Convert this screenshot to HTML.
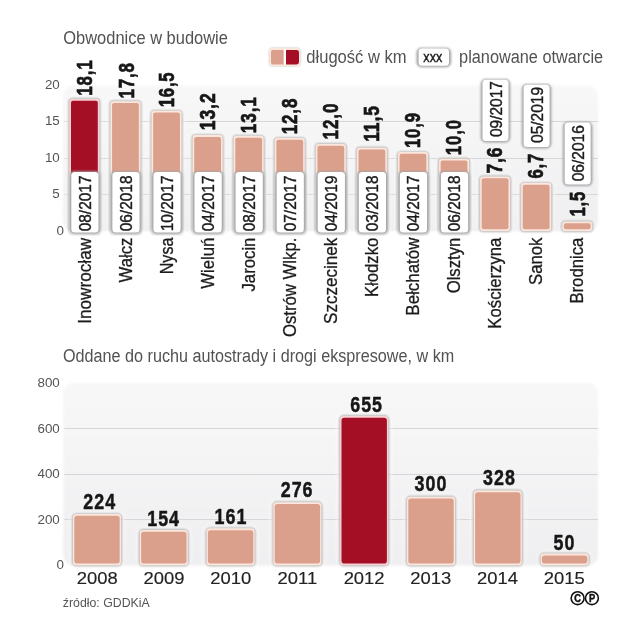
<!DOCTYPE html>
<html lang="pl"><head><meta charset="utf-8"><title>Obwodnice w budowie</title>
<style>
html,body{margin:0;padding:0;background:#fff;}
body{width:640px;height:640px;overflow:hidden;}
svg{display:block;font-family:"Liberation Sans",sans-serif;}
.t{fill:#525252;font-size:19px;}
.ax{fill:#555;font-size:12.4px;}
.val{fill:#161616;font-weight:bold;font-size:22.8px;stroke:#161616;stroke-width:0.7px;letter-spacing:1.2px;}
.bval{fill:#161616;font-weight:bold;font-size:22.6px;stroke:#161616;stroke-width:0.5px;letter-spacing:1.3px;}
.city{fill:#1c1c1c;font-size:18.3px;stroke:#1c1c1c;stroke-width:0.3px;}
.date{fill:#1c1c1c;font-size:16.7px;stroke:#1c1c1c;stroke-width:0.4px;}
.yr{fill:#222;font-size:16.6px;stroke:#222;stroke-width:0.15px;}
.src{fill:#555;font-size:13.4px;}
</style></head><body>
<svg width="640" height="640" viewBox="0 0 640 640">
<defs>
<linearGradient id="bg" x1="0" y1="0" x2="0" y2="1"><stop offset="0" stop-color="#f8f8f8"/><stop offset="1" stop-color="#efeff1"/></linearGradient>
<filter id="sh" x="-30%" y="-30%" width="160%" height="160%"><feGaussianBlur stdDeviation="1"/></filter>
<filter id="sh2" x="-30%" y="-30%" width="160%" height="160%"><feGaussianBlur stdDeviation="0.75"/></filter>
<filter id="sh3" x="-30%" y="-30%" width="160%" height="160%"><feGaussianBlur stdDeviation="1.0"/></filter>
<filter id="glow" x="-30%" y="-30%" width="160%" height="160%"><feGaussianBlur stdDeviation="1.6"/></filter>
<filter id="soft" x="-5%" y="-5%" width="110%" height="110%"><feGaussianBlur stdDeviation="0.8"/></filter>
</defs>
<rect width="640" height="640" fill="#fff"/>

<text class="t" transform="translate(63.30,43.70) scale(0.866,1)" text-anchor="start">Obwodnice w budowie</text>
<rect x="269.4" y="47.9" width="30.8" height="18.1" rx="3.5" fill="#777" opacity="0.5" filter="url(#sh)"/>
<rect x="269.4" y="47.9" width="30.8" height="18.1" rx="3.5" fill="#fde6dc"/>
<path d="M273,50 H283.8 V64.4 H273 Q271,64.4 271,62.4 V52 Q271,50 273,50 Z" fill="#dba08b"/>
<rect x="283.8" y="49" width="2.2" height="16" fill="#fff"/>
<path d="M286,50 H296.6 Q299,50 299,52.4 V62 Q299,64.4 296.6,64.4 H286 Z" fill="#a50f26"/>
<text class="t" transform="translate(306.30,63.30) scale(0.872,1)" text-anchor="start">długość w km</text>
<rect x="416.50" y="47.70" width="34.60" height="19.60" rx="5.0" fill="#a4a4a4" filter="url(#sh3)"/>
<rect x="418.60" y="48.40" width="30.40" height="17.40" rx="3.5" fill="#fff"/>
<text class="date" transform="translate(432.80,61.60) scale(0.84,1)" text-anchor="middle" style="font-size:15px">xxx</text>
<text class="t" transform="translate(459.10,63.30) scale(0.858,1)" text-anchor="start">planowane otwarcie</text>
<rect x="63.3" y="85.2" width="534.7" height="146.0" rx="11" fill="url(#bg)" filter="url(#soft)"/>
<text class="ax" transform="translate(59.80,88.95) scale(1.08,1)" text-anchor="end">20</text>
<line x1="64.3" x2="598" y1="121.5" y2="121.5" stroke="#d6d6d6" stroke-width="1"/>
<text class="ax" transform="translate(59.80,125.25) scale(1.08,1)" text-anchor="end">15</text>
<line x1="64.3" x2="598" y1="158.5" y2="158.5" stroke="#d6d6d6" stroke-width="1"/>
<text class="ax" transform="translate(59.80,161.55) scale(1.08,1)" text-anchor="end">10</text>
<line x1="64.3" x2="598" y1="194.5" y2="194.5" stroke="#d6d6d6" stroke-width="1"/>
<text class="ax" transform="translate(59.80,197.85) scale(1.08,1)" text-anchor="end">5</text>
<text class="ax" transform="translate(64.00,235.15) scale(1.08,1)" text-anchor="end">0</text>
<rect x="65.90" y="95.98" width="37.00" height="137.92" rx="6" fill="#fff" opacity="0.55" filter="url(#glow)"/>
<rect x="68.30" y="98.08" width="32.20" height="134.72" rx="4" fill="#8a8a8a" opacity="0.6" filter="url(#sh3)"/>
<rect x="69.40" y="98.98" width="30.00" height="132.92" rx="3" fill="#f9d0d2"/>
<rect x="71.00" y="100.78" width="26.80" height="129.32" rx="2.00" fill="#a50f26"/>
<rect x="68.50" y="173.50" width="32.80" height="61.90" rx="3" fill="#f0f0f2"/>
<rect x="69.20" y="171.30" width="31.40" height="62.60" rx="5.0" fill="#a4a4a4" filter="url(#sh3)"/>
<rect x="71.30" y="172.00" width="27.20" height="60.40" rx="3.5" fill="#fff"/>
<text class="date" transform="translate(90.80,231.30) rotate(-90) scale(0.925,1)" text-anchor="start">08/2017</text>
<text class="val" transform="translate(91.70,95.84) rotate(-90) scale(0.7399,1)" text-anchor="start">18,1</text>
<text class="city" transform="translate(90.50,237.90) rotate(-90) scale(0.938,1)" text-anchor="end">Inowrocław</text>
<rect x="106.97" y="98.19" width="37.00" height="135.71" rx="6" fill="#fff" opacity="0.55" filter="url(#glow)"/>
<rect x="109.37" y="100.29" width="32.20" height="132.51" rx="4" fill="#8a8a8a" opacity="0.6" filter="url(#sh3)"/>
<rect x="110.47" y="101.19" width="30.00" height="130.71" rx="3" fill="#fde6dc"/>
<rect x="112.07" y="102.99" width="26.80" height="127.11" rx="2.00" fill="#dba08b"/>
<rect x="109.57" y="173.50" width="32.80" height="61.90" rx="3" fill="#f0f0f2"/>
<rect x="110.27" y="171.30" width="31.40" height="62.60" rx="5.0" fill="#a4a4a4" filter="url(#sh3)"/>
<rect x="112.37" y="172.00" width="27.20" height="60.40" rx="3.5" fill="#fff"/>
<text class="date" transform="translate(131.87,231.30) rotate(-90) scale(0.925,1)" text-anchor="start">06/2018</text>
<text class="val" transform="translate(133.57,98.61) rotate(-90) scale(0.7437,1)" text-anchor="start">17,8</text>
<text class="city" transform="translate(131.57,237.60) rotate(-90) scale(0.915,1)" text-anchor="end">Wałcz</text>
<rect x="148.04" y="107.78" width="37.00" height="126.12" rx="6" fill="#fff" opacity="0.55" filter="url(#glow)"/>
<rect x="150.44" y="109.88" width="32.20" height="122.92" rx="4" fill="#8a8a8a" opacity="0.6" filter="url(#sh3)"/>
<rect x="151.54" y="110.78" width="30.00" height="121.12" rx="3" fill="#fde6dc"/>
<rect x="153.14" y="112.58" width="26.80" height="117.52" rx="2.00" fill="#dba08b"/>
<rect x="150.64" y="173.50" width="32.80" height="61.90" rx="3" fill="#f0f0f2"/>
<rect x="151.34" y="171.30" width="31.40" height="62.60" rx="5.0" fill="#a4a4a4" filter="url(#sh3)"/>
<rect x="153.44" y="172.00" width="27.20" height="60.40" rx="3.5" fill="#fff"/>
<text class="date" transform="translate(172.94,231.30) rotate(-90) scale(0.925,1)" text-anchor="start">10/2017</text>
<text class="val" transform="translate(173.84,107.35) rotate(-90) scale(0.7292,1)" text-anchor="start">16,5</text>
<text class="city" transform="translate(172.64,237.60) rotate(-90) scale(0.88,1)" text-anchor="end">Nysa</text>
<rect x="189.11" y="132.11" width="37.00" height="101.79" rx="6" fill="#fff" opacity="0.55" filter="url(#glow)"/>
<rect x="191.51" y="134.21" width="32.20" height="98.59" rx="4" fill="#8a8a8a" opacity="0.6" filter="url(#sh3)"/>
<rect x="192.61" y="135.11" width="30.00" height="96.79" rx="3" fill="#fde6dc"/>
<rect x="194.21" y="136.91" width="26.80" height="93.19" rx="2.00" fill="#dba08b"/>
<rect x="191.71" y="173.50" width="32.80" height="61.90" rx="3" fill="#f0f0f2"/>
<rect x="192.41" y="171.30" width="31.40" height="62.60" rx="5.0" fill="#a4a4a4" filter="url(#sh3)"/>
<rect x="194.51" y="172.00" width="27.20" height="60.40" rx="3.5" fill="#fff"/>
<text class="date" transform="translate(214.01,231.30) rotate(-90) scale(0.925,1)" text-anchor="start">04/2017</text>
<text class="val" transform="translate(214.91,130.23) rotate(-90) scale(0.7687,1)" text-anchor="start">13,2</text>
<text class="city" transform="translate(213.71,237.60) rotate(-90) scale(0.915,1)" text-anchor="end">Wieluń</text>
<rect x="230.18" y="132.85" width="37.00" height="101.05" rx="6" fill="#fff" opacity="0.55" filter="url(#glow)"/>
<rect x="232.58" y="134.95" width="32.20" height="97.85" rx="4" fill="#8a8a8a" opacity="0.6" filter="url(#sh3)"/>
<rect x="233.68" y="135.85" width="30.00" height="96.05" rx="3" fill="#fde6dc"/>
<rect x="235.28" y="137.65" width="26.80" height="92.45" rx="2.00" fill="#dba08b"/>
<rect x="232.78" y="173.50" width="32.80" height="61.90" rx="3" fill="#f0f0f2"/>
<rect x="233.48" y="171.30" width="31.40" height="62.60" rx="5.0" fill="#a4a4a4" filter="url(#sh3)"/>
<rect x="235.58" y="172.00" width="27.20" height="60.40" rx="3.5" fill="#fff"/>
<text class="date" transform="translate(255.08,231.30) rotate(-90) scale(0.925,1)" text-anchor="start">08/2017</text>
<text class="val" transform="translate(255.98,133.13) rotate(-90) scale(0.7482,1)" text-anchor="start">13,1</text>
<text class="city" transform="translate(254.78,237.60) rotate(-90) scale(0.915,1)" text-anchor="end">Jarocin</text>
<rect x="271.25" y="135.06" width="37.00" height="98.84" rx="6" fill="#fff" opacity="0.55" filter="url(#glow)"/>
<rect x="273.65" y="137.16" width="32.20" height="95.64" rx="4" fill="#8a8a8a" opacity="0.6" filter="url(#sh3)"/>
<rect x="274.75" y="138.06" width="30.00" height="93.84" rx="3" fill="#fde6dc"/>
<rect x="276.35" y="139.86" width="26.80" height="90.24" rx="2.00" fill="#dba08b"/>
<rect x="273.85" y="173.50" width="32.80" height="61.90" rx="3" fill="#f0f0f2"/>
<rect x="274.55" y="171.30" width="31.40" height="62.60" rx="5.0" fill="#a4a4a4" filter="url(#sh3)"/>
<rect x="276.65" y="172.00" width="27.20" height="60.40" rx="3.5" fill="#fff"/>
<text class="date" transform="translate(296.15,231.30) rotate(-90) scale(0.925,1)" text-anchor="start">07/2017</text>
<text class="val" transform="translate(297.05,134.25) rotate(-90) scale(0.7409,1)" text-anchor="start">12,8</text>
<text class="city" transform="translate(295.85,237.60) rotate(-90) scale(0.915,1)" text-anchor="end">Ostrów Wlkp.</text>
<rect x="312.32" y="140.96" width="37.00" height="92.94" rx="6" fill="#fff" opacity="0.55" filter="url(#glow)"/>
<rect x="314.72" y="143.06" width="32.20" height="89.74" rx="4" fill="#8a8a8a" opacity="0.6" filter="url(#sh3)"/>
<rect x="315.82" y="143.96" width="30.00" height="87.94" rx="3" fill="#fde6dc"/>
<rect x="317.42" y="145.76" width="26.80" height="84.34" rx="2.00" fill="#dba08b"/>
<rect x="314.92" y="173.50" width="32.80" height="61.90" rx="3" fill="#f0f0f2"/>
<rect x="315.62" y="171.30" width="31.40" height="62.60" rx="5.0" fill="#a4a4a4" filter="url(#sh3)"/>
<rect x="317.72" y="172.00" width="27.20" height="60.40" rx="3.5" fill="#fff"/>
<text class="date" transform="translate(337.22,231.30) rotate(-90) scale(0.925,1)" text-anchor="start">04/2019</text>
<text class="val" transform="translate(338.12,139.49) rotate(-90) scale(0.7479,1)" text-anchor="start">12,0</text>
<text class="city" transform="translate(336.92,237.60) rotate(-90) scale(0.935,1)" text-anchor="end">Szczecinek</text>
<rect x="353.39" y="144.65" width="37.00" height="89.25" rx="6" fill="#fff" opacity="0.55" filter="url(#glow)"/>
<rect x="355.79" y="146.75" width="32.20" height="86.05" rx="4" fill="#8a8a8a" opacity="0.6" filter="url(#sh3)"/>
<rect x="356.89" y="147.65" width="30.00" height="84.25" rx="3" fill="#fde6dc"/>
<rect x="358.49" y="149.45" width="26.80" height="80.65" rx="2.00" fill="#dba08b"/>
<rect x="355.99" y="173.50" width="32.80" height="61.90" rx="3" fill="#f0f0f2"/>
<rect x="356.69" y="171.30" width="31.40" height="62.60" rx="5.0" fill="#a4a4a4" filter="url(#sh3)"/>
<rect x="358.79" y="172.00" width="27.20" height="60.40" rx="3.5" fill="#fff"/>
<text class="date" transform="translate(378.29,231.30) rotate(-90) scale(0.925,1)" text-anchor="start">03/2018</text>
<text class="val" transform="translate(379.19,141.87) rotate(-90) scale(0.765,1)" text-anchor="start">11,5</text>
<text class="city" transform="translate(377.99,237.60) rotate(-90) scale(0.915,1)" text-anchor="end">Kłodzko</text>
<rect x="394.46" y="149.07" width="37.00" height="84.83" rx="6" fill="#fff" opacity="0.55" filter="url(#glow)"/>
<rect x="396.86" y="151.17" width="32.20" height="81.63" rx="4" fill="#8a8a8a" opacity="0.6" filter="url(#sh3)"/>
<rect x="397.96" y="152.07" width="30.00" height="79.83" rx="3" fill="#fde6dc"/>
<rect x="399.56" y="153.87" width="26.80" height="76.23" rx="2.00" fill="#dba08b"/>
<rect x="397.06" y="173.50" width="32.80" height="61.90" rx="3" fill="#f0f0f2"/>
<rect x="397.76" y="171.30" width="31.40" height="62.60" rx="5.0" fill="#a4a4a4" filter="url(#sh3)"/>
<rect x="399.86" y="172.00" width="27.20" height="60.40" rx="3.5" fill="#fff"/>
<text class="date" transform="translate(419.36,231.30) rotate(-90) scale(0.925,1)" text-anchor="start">04/2017</text>
<text class="val" transform="translate(420.26,148.05) rotate(-90) scale(0.733,1)" text-anchor="start">10,9</text>
<text class="city" transform="translate(419.06,237.60) rotate(-90) scale(0.925,1)" text-anchor="end">Bełchatów</text>
<rect x="435.53" y="155.71" width="37.00" height="78.19" rx="6" fill="#fff" opacity="0.55" filter="url(#glow)"/>
<rect x="437.93" y="157.81" width="32.20" height="74.99" rx="4" fill="#8a8a8a" opacity="0.6" filter="url(#sh3)"/>
<rect x="439.03" y="158.71" width="30.00" height="73.19" rx="3" fill="#fde6dc"/>
<rect x="440.63" y="160.51" width="26.80" height="69.59" rx="2.00" fill="#dba08b"/>
<rect x="438.13" y="173.50" width="32.80" height="61.90" rx="3" fill="#f0f0f2"/>
<rect x="438.83" y="171.30" width="31.40" height="62.60" rx="5.0" fill="#a4a4a4" filter="url(#sh3)"/>
<rect x="440.93" y="172.00" width="27.20" height="60.40" rx="3.5" fill="#fff"/>
<text class="date" transform="translate(460.43,231.30) rotate(-90) scale(0.925,1)" text-anchor="start">06/2018</text>
<text class="val" transform="translate(461.33,155.13) rotate(-90) scale(0.7324,1)" text-anchor="start">10,0</text>
<text class="city" transform="translate(460.13,237.60) rotate(-90) scale(0.915,1)" text-anchor="end">Olsztyn</text>
<rect x="476.60" y="173.41" width="37.00" height="59.69" rx="6" fill="#fff" opacity="0.55" filter="url(#glow)"/>
<rect x="479.00" y="175.51" width="32.20" height="56.49" rx="4" fill="#8a8a8a" opacity="0.6" filter="url(#sh3)"/>
<rect x="480.10" y="176.41" width="30.00" height="54.69" rx="3" fill="#fde6dc"/>
<rect x="481.70" y="178.21" width="26.80" height="51.09" rx="2.00" fill="#dba08b"/>
<text class="val" transform="translate(502.40,173.56) rotate(-90) scale(0.7637,1)" text-anchor="start">7,6</text>
<text class="city" transform="translate(501.20,237.60) rotate(-90) scale(0.915,1)" text-anchor="end">Kościerzyna</text>
<rect x="517.67" y="180.04" width="37.00" height="53.06" rx="6" fill="#fff" opacity="0.55" filter="url(#glow)"/>
<rect x="520.07" y="182.14" width="32.20" height="49.86" rx="4" fill="#8a8a8a" opacity="0.6" filter="url(#sh3)"/>
<rect x="521.17" y="183.04" width="30.00" height="48.06" rx="3" fill="#fde6dc"/>
<rect x="522.77" y="184.84" width="26.80" height="44.46" rx="2.00" fill="#dba08b"/>
<text class="val" transform="translate(543.47,178.51) rotate(-90) scale(0.7306,1)" text-anchor="start">6,7</text>
<text class="city" transform="translate(542.27,237.60) rotate(-90) scale(0.915,1)" text-anchor="end">Sanok</text>
<rect x="558.74" y="218.39" width="37.00" height="14.71" rx="6" fill="#fff" opacity="0.55" filter="url(#glow)"/>
<rect x="561.14" y="220.49" width="32.20" height="11.51" rx="4" fill="#8a8a8a" opacity="0.6" filter="url(#sh3)"/>
<rect x="562.24" y="221.39" width="30.00" height="9.71" rx="3" fill="#fde6dc"/>
<rect x="563.84" y="223.19" width="26.80" height="6.11" rx="2.00" fill="#dba08b"/>
<text class="val" transform="translate(584.54,216.56) rotate(-90) scale(0.73,1)" text-anchor="start">1,5</text>
<text class="city" transform="translate(583.34,237.60) rotate(-90) scale(0.915,1)" text-anchor="end">Brodnica</text>
<rect x="480.70" y="79.00" width="29.60" height="63.50" rx="5.0" fill="#a4a4a4" filter="url(#sh3)"/>
<rect x="482.50" y="79.70" width="26.00" height="61.30" rx="3.5" fill="#fff"/>
<text class="date" transform="translate(501.60,137.10) rotate(-90) scale(0.93,1)" text-anchor="start">09/2017</text>
<rect x="521.77" y="84.10" width="29.60" height="64.30" rx="5.0" fill="#a4a4a4" filter="url(#sh3)"/>
<rect x="523.57" y="84.80" width="26.00" height="62.10" rx="3.5" fill="#fff"/>
<text class="date" transform="translate(542.67,143.00) rotate(-90) scale(0.93,1)" text-anchor="start">05/2019</text>
<rect x="562.84" y="121.70" width="29.60" height="64.40" rx="5.0" fill="#a4a4a4" filter="url(#sh3)"/>
<rect x="564.64" y="122.40" width="26.00" height="62.20" rx="3.5" fill="#fff"/>
<text class="date" transform="translate(583.74,181.30) rotate(-90) scale(0.93,1)" text-anchor="start">06/2016</text>
<text class="t" transform="translate(63.00,361.60) scale(0.852,1)" text-anchor="start">Oddane do ruchu autostrady i drogi ekspresowe, w km</text>
<rect x="63.3" y="382.4" width="534.7" height="183.20000000000005" rx="11" fill="url(#bg)" filter="url(#soft)"/>
<text class="ax" transform="translate(59.80,387.15) scale(1.08,1)" text-anchor="end">800</text>
<line x1="64.3" x2="598" y1="428.5" y2="428.5" stroke="#d6d6d6" stroke-width="1"/>
<text class="ax" transform="translate(59.80,432.65) scale(1.08,1)" text-anchor="end">600</text>
<line x1="64.3" x2="598" y1="474.5" y2="474.5" stroke="#d6d6d6" stroke-width="1"/>
<text class="ax" transform="translate(59.80,478.15) scale(1.08,1)" text-anchor="end">400</text>
<line x1="64.3" x2="598" y1="519.5" y2="519.5" stroke="#d6d6d6" stroke-width="1"/>
<text class="ax" transform="translate(59.80,523.65) scale(1.08,1)" text-anchor="end">200</text>
<text class="ax" transform="translate(64.00,569.15) scale(1.08,1)" text-anchor="end">0</text>
<rect x="69.50" y="511.04" width="55.00" height="56.26" rx="6.5" fill="#fff" opacity="0.55" filter="url(#glow)"/>
<rect x="71.90" y="513.14" width="50.20" height="53.06" rx="4.5" fill="#8a8a8a" opacity="0.6" filter="url(#sh3)"/>
<rect x="73.00" y="514.04" width="48.00" height="51.26" rx="3.5" fill="#fde6dc"/>
<rect x="74.30" y="515.84" width="45.40" height="47.66" rx="2.80" fill="#dba08b"/>
<text class="bval" transform="translate(99.70,508.94) scale(0.79,1)" text-anchor="middle">224</text>
<text class="yr" transform="translate(97.30,584.40) scale(1.11,1)" text-anchor="middle">2008</text>
<rect x="136.30" y="526.97" width="55.00" height="40.33" rx="6.5" fill="#fff" opacity="0.55" filter="url(#glow)"/>
<rect x="138.70" y="529.07" width="50.20" height="37.13" rx="4.5" fill="#8a8a8a" opacity="0.6" filter="url(#sh3)"/>
<rect x="139.80" y="529.97" width="48.00" height="35.33" rx="3.5" fill="#fde6dc"/>
<rect x="141.10" y="531.76" width="45.40" height="31.73" rx="2.80" fill="#dba08b"/>
<text class="bval" transform="translate(163.60,525.77) scale(0.79,1)" text-anchor="middle">154</text>
<text class="yr" transform="translate(164.00,584.40) scale(1.11,1)" text-anchor="middle">2009</text>
<rect x="203.10" y="525.37" width="55.00" height="41.93" rx="6.5" fill="#fff" opacity="0.55" filter="url(#glow)"/>
<rect x="205.50" y="527.47" width="50.20" height="38.73" rx="4.5" fill="#8a8a8a" opacity="0.6" filter="url(#sh3)"/>
<rect x="206.60" y="528.37" width="48.00" height="36.93" rx="3.5" fill="#fde6dc"/>
<rect x="207.90" y="530.17" width="45.40" height="33.33" rx="2.80" fill="#dba08b"/>
<text class="bval" transform="translate(231.00,524.27) scale(0.79,1)" text-anchor="middle">161</text>
<text class="yr" transform="translate(230.70,584.40) scale(1.11,1)" text-anchor="middle">2010</text>
<rect x="269.90" y="499.21" width="55.00" height="68.09" rx="6.5" fill="#fff" opacity="0.55" filter="url(#glow)"/>
<rect x="272.30" y="501.31" width="50.20" height="64.89" rx="4.5" fill="#8a8a8a" opacity="0.6" filter="url(#sh3)"/>
<rect x="273.40" y="502.21" width="48.00" height="63.09" rx="3.5" fill="#fde6dc"/>
<rect x="274.70" y="504.01" width="45.40" height="59.49" rx="2.80" fill="#dba08b"/>
<text class="bval" transform="translate(297.10,496.91) scale(0.79,1)" text-anchor="middle">276</text>
<text class="yr" transform="translate(297.40,584.40) scale(1.11,1)" text-anchor="middle">2011</text>
<rect x="336.70" y="412.99" width="55.00" height="154.31" rx="6.5" fill="#fff" opacity="0.55" filter="url(#glow)"/>
<rect x="339.10" y="415.09" width="50.20" height="151.11" rx="4.5" fill="#8a8a8a" opacity="0.6" filter="url(#sh3)"/>
<rect x="340.20" y="415.99" width="48.00" height="149.31" rx="3.5" fill="#f9d3d3"/>
<rect x="341.50" y="417.79" width="45.40" height="145.71" rx="2.80" fill="#a50f26"/>
<text class="bval" transform="translate(366.60,412.29) scale(0.79,1)" text-anchor="middle">655</text>
<text class="yr" transform="translate(364.10,584.40) scale(1.11,1)" text-anchor="middle">2012</text>
<rect x="403.50" y="493.75" width="55.00" height="73.55" rx="6.5" fill="#fff" opacity="0.55" filter="url(#glow)"/>
<rect x="405.90" y="495.85" width="50.20" height="70.35" rx="4.5" fill="#8a8a8a" opacity="0.6" filter="url(#sh3)"/>
<rect x="407.00" y="496.75" width="48.00" height="68.55" rx="3.5" fill="#fde6dc"/>
<rect x="408.30" y="498.55" width="45.40" height="64.95" rx="2.80" fill="#dba08b"/>
<text class="bval" transform="translate(431.00,491.35) scale(0.79,1)" text-anchor="middle">300</text>
<text class="yr" transform="translate(430.80,584.40) scale(1.11,1)" text-anchor="middle">2013</text>
<rect x="470.30" y="487.38" width="55.00" height="79.92" rx="6.5" fill="#fff" opacity="0.55" filter="url(#glow)"/>
<rect x="472.70" y="489.48" width="50.20" height="76.72" rx="4.5" fill="#8a8a8a" opacity="0.6" filter="url(#sh3)"/>
<rect x="473.80" y="490.38" width="48.00" height="74.92" rx="3.5" fill="#fde6dc"/>
<rect x="475.10" y="492.18" width="45.40" height="71.32" rx="2.80" fill="#dba08b"/>
<text class="bval" transform="translate(499.40,484.88) scale(0.79,1)" text-anchor="middle">328</text>
<text class="yr" transform="translate(497.50,584.40) scale(1.11,1)" text-anchor="middle">2014</text>
<rect x="537.10" y="550.62" width="55.00" height="16.67" rx="6.5" fill="#fff" opacity="0.55" filter="url(#glow)"/>
<rect x="539.50" y="552.73" width="50.20" height="13.47" rx="4.5" fill="#8a8a8a" opacity="0.6" filter="url(#sh3)"/>
<rect x="540.60" y="553.62" width="48.00" height="11.67" rx="3.5" fill="#fde6dc"/>
<rect x="541.90" y="555.42" width="45.40" height="8.07" rx="2.80" fill="#dba08b"/>
<text class="bval" transform="translate(564.40,549.83) scale(0.79,1)" text-anchor="middle">50</text>
<text class="yr" transform="translate(564.20,584.40) scale(1.11,1)" text-anchor="middle">2015</text>
<text class="src" transform="translate(62.80,607.30) scale(0.92,1)" text-anchor="start">źródło: GDDKiA</text>
<circle cx="577.6" cy="598.2" r="6.45" fill="#fff" stroke="#111" stroke-width="1.6"/>
<text transform="translate(577.60,601.9) scale(0.92,1)" text-anchor="middle" style="font-size:10.1px;font-weight:bold;fill:#111;stroke:#111;stroke-width:0.45px">C</text>
<circle cx="591.9" cy="598.2" r="6.45" fill="#fff" stroke="#111" stroke-width="1.6"/>
<text transform="translate(592.20,601.9) scale(0.92,1)" text-anchor="middle" style="font-size:10.1px;font-weight:bold;fill:#111;stroke:#111;stroke-width:0.45px">P</text>
</svg></body></html>
